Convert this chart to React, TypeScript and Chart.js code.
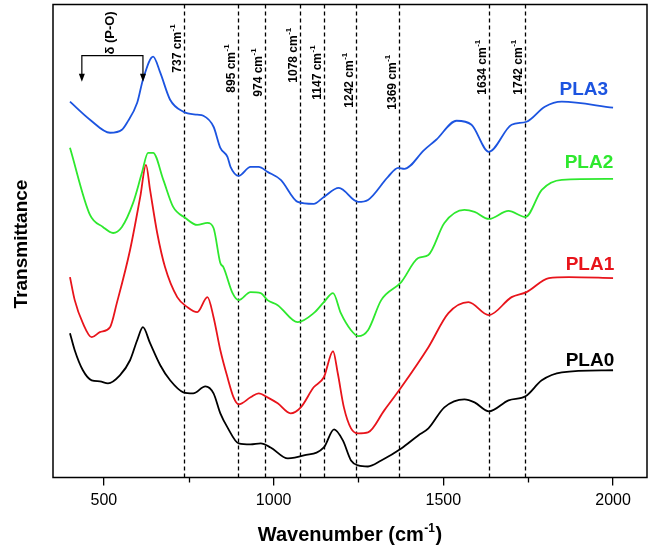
import React, { useEffect, useRef } from "react";
import { Chart, registerables } from "chart.js";

Chart.register(...registerables);

// ---- data (wavenumber in cm-1, transmittance in arbitrary units) ----
const pla3Wn = [400, 459, 518, 553, 568, 598, 615, 645, 666, 695, 734, 775, 793, 823, 843, 864, 873, 897, 932, 956, 982, 1021, 1071, 1118, 1148, 1192, 1249, 1278, 1337, 1367, 1385, 1444, 1479, 1539, 1583, 1634, 1701, 1745, 1799, 1849, 2000];
const pla3T = [375, 357, 344, 347, 354, 374, 397, 420, 404, 377, 365, 362, 361, 350, 329, 320, 310, 301, 310, 310, 305, 297, 275, 273, 280, 289, 275, 277, 300, 309, 308, 327, 337, 356, 352, 325, 352, 355, 370, 375, 369];

const pla2Wn = [400, 459, 497, 527, 553, 586, 612, 630, 645, 675, 704, 740, 775, 805, 823, 843, 852, 879, 897, 932, 962, 982, 1012, 1071, 1118, 1148, 1175, 1198, 1228, 1249, 1278, 1317, 1376, 1426, 1456, 1503, 1562, 1592, 1634, 1692, 1742, 1790, 1849, 2000];
const pla2T = [329, 262, 250, 244, 250, 274, 304, 324, 324, 297, 270, 259, 252, 254, 249, 214, 210, 184, 177, 185, 184, 177, 172, 155, 164, 175, 184, 164, 147, 141, 147, 177, 195, 219, 222, 254, 267, 265, 258, 266, 260, 287, 297, 298];

const pla1Wn = [400, 414, 438, 464, 488, 518, 538, 577, 607, 624, 636, 657, 680, 716, 746, 775, 805, 823, 843, 864, 882, 897, 932, 956, 982, 1012, 1050, 1080, 1118, 1148, 1175, 1189, 1207, 1228, 1249, 1278, 1326, 1376, 1456, 1515, 1574, 1634, 1701, 1745, 1811, 1870, 2000];
const pla1T = [200, 177, 154, 140, 145, 150, 174, 227, 280, 312, 287, 244, 210, 180, 170, 165, 180, 160, 127, 100, 80, 73, 80, 84, 80, 74, 64, 70, 90, 100, 126, 104, 70, 49, 44, 45, 67, 90, 130, 164, 175, 162, 180, 185, 199, 200, 199];

const pla0Wn = [400, 414, 438, 464, 488, 512, 547, 577, 598, 615, 636, 666, 695, 734, 763, 799, 823, 843, 864, 897, 932, 962, 991, 1042, 1089, 1148, 1178, 1204, 1228, 1249, 1278, 1317, 1376, 1426, 1456, 1503, 1562, 1592, 1634, 1692, 1742, 1790, 1849, 2000];
const pla0T = [144, 127, 107, 97, 96, 94, 102, 117, 137, 150, 134, 112, 97, 85, 84, 91, 84, 64, 50, 34, 33, 34, 30, 19, 22, 30, 48, 37, 17, 12, 11, 17, 29, 42, 49, 70, 78, 75, 66, 77, 81, 97, 105, 107];

const seriesNames = ["PLA0", "PLA1", "PLA2", "PLA3"];
const seriesColors = ["#000000", "#e8141b", "#2ee82e", "#1c54e0"];
const seriesLabelWn = [1932, 1932, 1929, 1914];
const seriesLabelT = [116, 212, 314, 387];

const peakWn = [737, 895, 974, 1078, 1147, 1242, 1369, 1634, 1742];
const peakLabelBottom = [404, 384, 380, 394, 377, 369, 367, 382, 382];

const xTickLabels = [500, 1000, 1500, 2000];
const minorTicks = [750, 1250, 1750];

const bracketWn = [435, 615];
const bracketT = 421;
const bracketTipT = 395;

const xTitle = "Wavenumber (cm";
const yTitle = "Transmittance";

const FONT = "'Liberation Sans', Arial, Helvetica, sans-serif";

const annotPlugin = {
  id: "annot",
  beforeDatasetsDraw(chart: any) {
    const { ctx, chartArea, scales } = chart;
    const x = scales.x;
    ctx.save();
    ctx.strokeStyle = "#000";
    ctx.lineWidth = 1.3;
    ctx.setLineDash([4, 3]);
    peakWn.forEach((p) => {
      const px = Math.round(x.getPixelForValue(p)) + 0.5;
      ctx.beginPath();
      ctx.moveTo(px, chartArea.top);
      ctx.lineTo(px, chartArea.bottom);
      ctx.stroke();
    });
    ctx.restore();
  },
  afterDatasetsDraw(chart: any) {
    const { ctx, scales } = chart;
    const x = scales.x;
    const y = scales.y;
    ctx.save();
    ctx.fillStyle = "#000";
    peakWn.forEach((p, i) => {
      const px = x.getPixelForValue(p) - 3;
      const py = y.getPixelForValue(peakLabelBottom[i]);
      ctx.save();
      ctx.translate(px, py);
      ctx.rotate(-Math.PI / 2);
      ctx.textAlign = "left";
      ctx.textBaseline = "alphabetic";
      ctx.font = `bold 12px ${FONT}`;
      const txt = `${p} cm`;
      ctx.fillText(txt, 0, 0);
      const w = ctx.measureText(txt).width;
      ctx.font = `bold 8px ${FONT}`;
      ctx.fillText("-1", w + 0.5, -6);
      ctx.restore();
    });
    seriesNames.forEach((n, i) => {
      ctx.font = `bold 19px ${FONT}`;
      ctx.textAlign = "center";
      ctx.textBaseline = "middle";
      ctx.fillStyle = seriesColors[i];
      ctx.fillText(n, x.getPixelForValue(seriesLabelWn[i]), y.getPixelForValue(seriesLabelT[i]));
    });
    const xl = x.getPixelForValue(bracketWn[0]);
    const xr = x.getPixelForValue(bracketWn[1]);
    const yb = y.getPixelForValue(bracketT);
    const yt = y.getPixelForValue(bracketTipT);
    ctx.strokeStyle = "#000";
    ctx.fillStyle = "#000";
    ctx.lineWidth = 1.2;
    ctx.beginPath();
    ctx.moveTo(xl, yt - 6);
    ctx.lineTo(xl, yb);
    ctx.lineTo(xr, yb);
    ctx.lineTo(xr, yt - 6);
    ctx.stroke();
    [xl, xr].forEach((ax) => {
      ctx.beginPath();
      ctx.moveTo(ax - 3, yt - 8);
      ctx.lineTo(ax + 3, yt - 8);
      ctx.lineTo(ax, yt);
      ctx.closePath();
      ctx.fill();
    });
    ctx.save();
    ctx.translate((xl + xr) / 2 + 2, yb - 1);
    ctx.rotate(-Math.PI / 2);
    ctx.textAlign = "left";
    ctx.textBaseline = "alphabetic";
    ctx.font = `bold 13px ${FONT}`;
    ctx.fillText("δ (P-O)", 0, 0);
    ctx.restore();
    ctx.restore();
  },
  afterDraw(chart: any) {
    const { ctx, chartArea, scales } = chart;
    const x = scales.x;
    ctx.save();
    ctx.strokeStyle = "#000";
    ctx.lineWidth = 1.5;
    ctx.strokeRect(chartArea.left, chartArea.top, chartArea.right - chartArea.left, chartArea.bottom - chartArea.top);
    ctx.lineWidth = 1.3;
    minorTicks.forEach((m) => {
      const px = Math.round(x.getPixelForValue(m)) + 0.5;
      ctx.beginPath();
      ctx.moveTo(px, chartArea.bottom);
      ctx.lineTo(px, chartArea.bottom + 5);
      ctx.stroke();
    });
    ctx.fillStyle = "#000";
    ctx.textBaseline = "alphabetic";
    ctx.textAlign = "left";
    ctx.font = `bold 20px ${FONT}`;
    const w1 = ctx.measureText(xTitle).width;
    ctx.font = `bold 12px ${FONT}`;
    const w2 = ctx.measureText("-1").width;
    ctx.font = `bold 20px ${FONT}`;
    const w3 = ctx.measureText(")").width;
    const total = w1 + w2 + w3 + 1;
    const cx = (chartArea.left + chartArea.right) / 2;
    const startX = cx - total / 2;
    const baseY = chartArea.bottom + 63;
    ctx.fillText(xTitle, startX, baseY);
    ctx.font = `bold 12px ${FONT}`;
    ctx.fillText("-1", startX + w1 + 0.5, baseY - 9);
    ctx.font = `bold 20px ${FONT}`;
    ctx.fillText(")", startX + w1 + w2 + 1, baseY);
    ctx.save();
    ctx.translate(22, (chartArea.top + chartArea.bottom) / 2 + 3);
    ctx.rotate(-Math.PI / 2);
    ctx.textAlign = "center";
    ctx.textBaseline = "middle";
    ctx.font = `bold 19px ${FONT}`;
    ctx.fillText(yTitle, 0, 0);
    ctx.restore();
    ctx.restore();
  },
};

function toPoints(xs: number[], ys: number[]) {
  return xs.map((v, i) => ({ x: v, y: ys[i] }));
}

export default function App() {
  const ref = useRef<HTMLCanvasElement | null>(null);
  useEffect(() => {
    if (!ref.current) return;
    const wnSets = [pla0Wn, pla1Wn, pla2Wn, pla3Wn];
    const tSets = [pla0T, pla1T, pla2T, pla3T];
    const chart = new Chart(ref.current, {
      type: "line",
      data: {
        datasets: seriesNames.map((n, i) => ({
          label: n,
          data: toPoints(wnSets[i], tSets[i]),
          borderColor: seriesColors[i],
          borderWidth: 1.8,
          pointRadius: 0,
          fill: false,
          cubicInterpolationMode: "monotone" as const,
        })),
      },
      options: {
        responsive: false,
        animation: false,
        layout: { padding: { left: 53, right: 5, top: 4.5, bottom: 33.3 } },
        plugins: { legend: { display: false }, tooltip: { enabled: false } },
        scales: {
          x: {
            type: "linear",
            min: 350,
            max: 2100,
            border: { display: false },
            afterBuildTicks: (axis: any) => {
              axis.ticks = xTickLabels.map((v) => ({ value: v }));
            },
            grid: {
              drawOnChartArea: false,
              drawTicks: true,
              tickLength: 8,
              lineWidth: 1.3,
              color: "#000",
            },
            ticks: {
              padding: 5.5,
              color: "#000",
              font: { family: FONT, size: 16 },
              maxRotation: 0,
              autoSkip: false,
              callback: (v: any) => String(Math.round(Number(v))),
            },
            title: { display: false },
          },
          y: {
            display: false,
            min: 0,
            max: 472,
          },
        },
      },
      plugins: [annotPlugin],
    });
    return () => chart.destroy();
  }, []);
  return (
    <div style={{ position: "absolute", left: 0, top: 0, width: 652, height: 549, background: "#fff" }}>
      <canvas ref={ref} width={652} height={549} />
    </div>
  );
}
